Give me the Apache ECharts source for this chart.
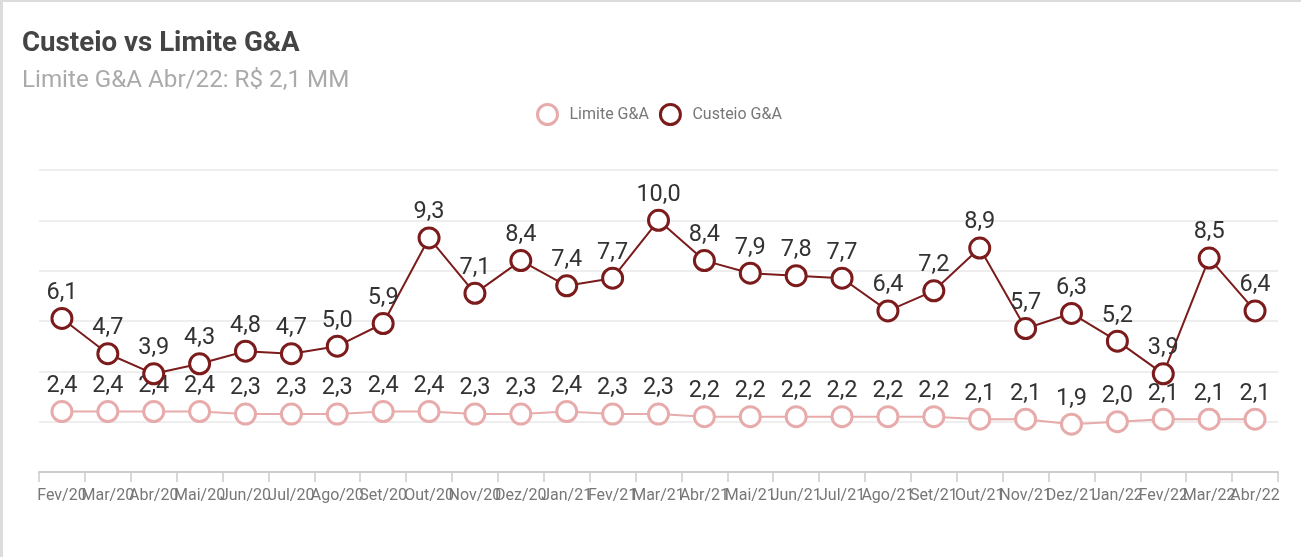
<!DOCTYPE html>
<html>
<head>
<meta charset="utf-8">
<script src="https://cdn.jsdelivr.net/npm/echarts@6/dist/echarts.min.js"></script>
<style>
    html, body {
        margin: 0;
        padding: 0;
        background: #fff;
    }
    .main {
        width: 1301px;
        height: 557px;
        box-sizing: border-box;
        border-top: 2px solid #dcdcdc;
        border-left: 3px solid #dcdcdc;
        overflow: hidden;
    }
</style>
</head>
<body>
<div id="main" class="main"></div>
<script>
// meses
const meses = ['Fev/20', 'Mar/20', 'Abr/20', 'Mai/20', 'Jun/20', 'Jul/20', 'Ago/20', 'Set/20', 'Out/20',
    'Nov/20', 'Dez/20', 'Jan/21', 'Fev/21', 'Mar/21', 'Abr/21', 'Mai/21', 'Jun/21', 'Jul/21', 'Ago/21',
    'Set/21', 'Out/21', 'Nov/21', 'Dez/21', 'Jan/22', 'Fev/22', 'Mar/22', 'Abr/22']

// valores em R$ MM
const limite = [2.4, 2.4, 2.4, 2.4, 2.3, 2.3, 2.3, 2.4, 2.4, 2.3, 2.3, 2.4, 2.3, 2.3, 2.2, 2.2, 2.2, 2.2,
    2.2, 2.2, 2.1, 2.1, 1.9, 2.0, 2.1, 2.1, 2.1]
const custeio = [6.1, 4.7, 3.9, 4.3, 4.8, 4.7, 5.0, 5.9, 9.3, 7.1, 8.4, 7.4, 7.7, 10.0, 8.4, 7.9, 7.8, 7.7,
    6.4, 7.2, 8.9, 5.7, 6.3, 5.2, 3.9, 8.5, 6.4]

const corLimite = '#e7abab'
const corCusteio = '#7b1b1b'
const fonte = 'Roboto, "Noto Sans", sans-serif'

const myChart = echarts.init(document.getElementById('main'))

function serie(nome, valores, cor, z) {
    return {
        name: nome,
        type: 'line',
        data: valores,
        z: z,
        symbol: 'circle',
        symbolSize: 20,
        lineStyle: { color: cor, width: 2 },
        itemStyle: { color: '#fff', borderColor: cor, borderWidth: 3 },
        emphasis: { disabled: true },
        label: {
            show: true,
            position: 'top',
            distance: 2,
            color: '#333',
            fontSize: 23.5,
            fontFamily: fonte,
            formatter: function (p) {
                return p.value.toFixed(1).replace('.', ',')
            }
        }
    }
}

const option = {
    animation: false,
    title: [{
        text: 'Custeio vs Limite G&A',
        left: 19,
        top: 28,
        padding: 0,
        textStyle: { fontSize: 27.7, fontWeight: 'bold', color: '#444', fontFamily: fonte }
    }, {
        text: 'Limite G&A Abr/22: R$ 2,1 MM',
        left: 19,
        top: 67,
        padding: 0,
        textStyle: { fontSize: 24.2, fontWeight: 'normal', color: '#aaa', fontFamily: fonte }
    }],
    legend: {
        top: 96,
        left: 528,
        icon: 'circle',
        itemWidth: 34,
        itemHeight: 20,
        itemGap: 10,
        textStyle: { fontSize: 16, color: '#777', fontFamily: fonte },
        data: [
            { name: 'Limite G&A', itemStyle: { color: '#fff', borderColor: corLimite, borderWidth: 3 } },
            { name: 'Custeio G&A', itemStyle: { color: '#fff', borderColor: corCusteio, borderWidth: 3 } }
        ]
    },
    grid: {
        left: 36,
        right: 23,
        top: 168,
        bottom: 85
    },
    xAxis: {
        type: 'category',
        data: meses,
        boundaryGap: true,
        axisLine: { lineStyle: { color: '#cccccc', width: 2 } },
        axisTick: { show: true, length: 10, lineStyle: { color: '#cccccc', width: 1.5 } },
        axisLabel: {
            interval: 0,
            margin: 16,
            fontSize: 16,
            color: '#777',
            fontFamily: fonte
        }
    },
    yAxis: {
        type: 'value',
        min: 0,
        max: 12,
        interval: 2,
        axisLine: { show: false },
        axisTick: { show: false },
        axisLabel: { show: false },
        splitLine: { lineStyle: { color: '#eeeeee', width: 2 } }
    },
    series: [
        serie('Limite G&A', limite, corLimite, 2),
        serie('Custeio G&A', custeio, corCusteio, 3)
    ]
}

myChart.setOption(option)
</script>
</body>
</html>
